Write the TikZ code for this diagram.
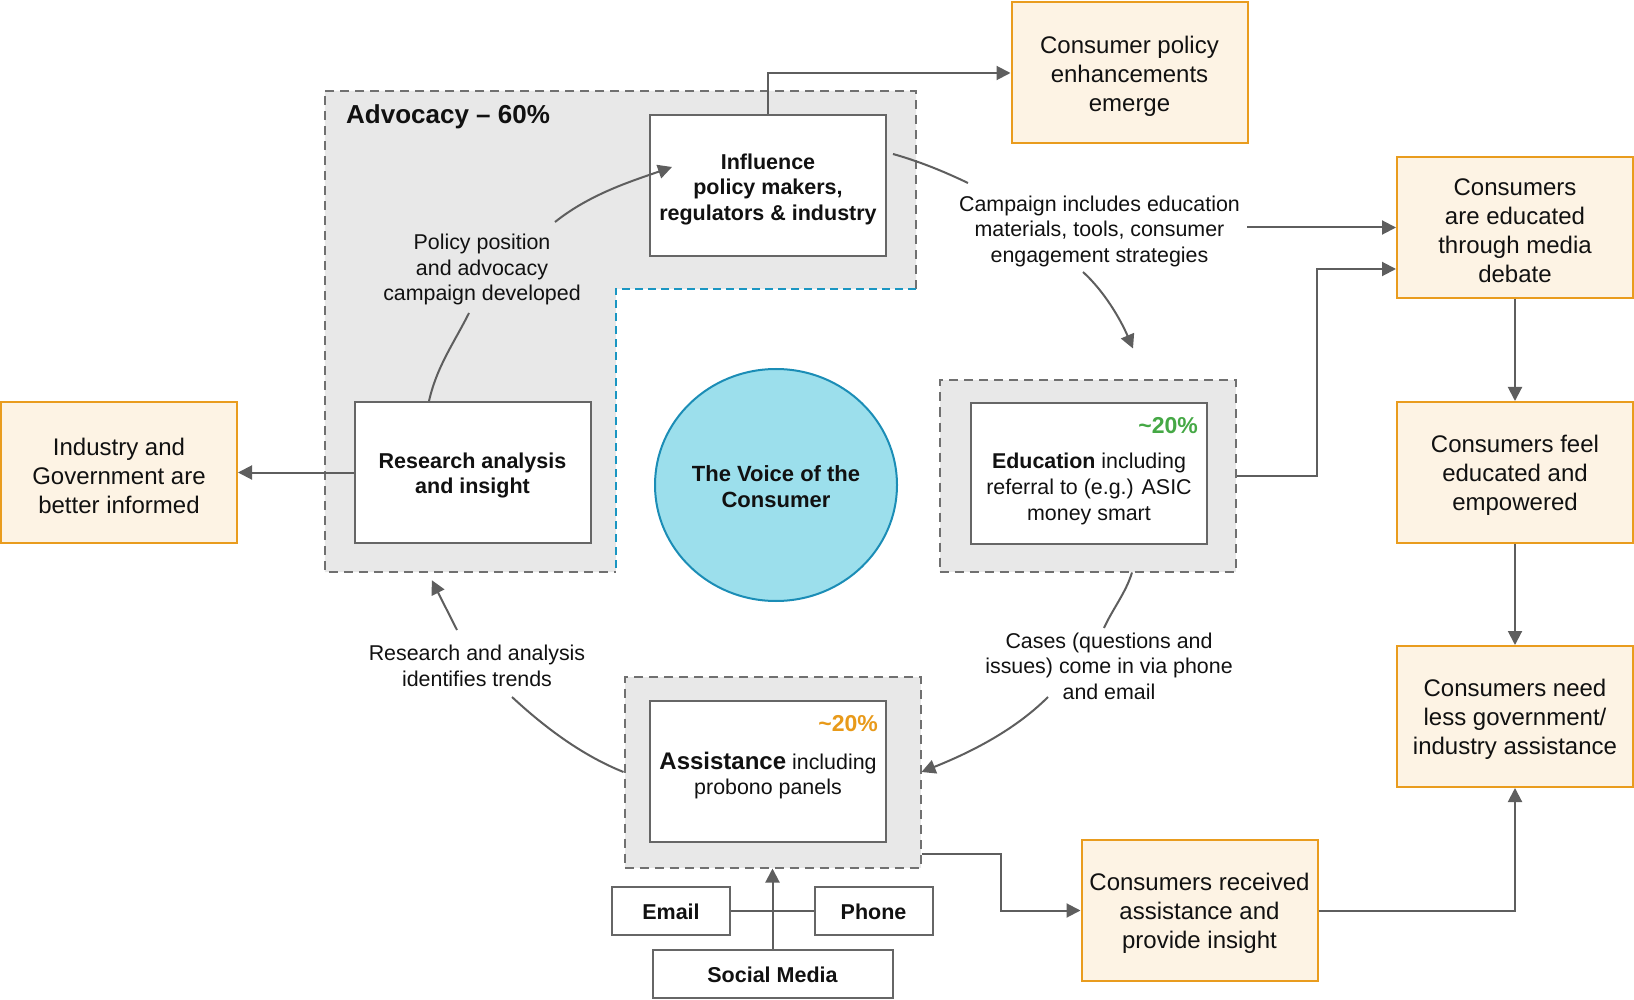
\documentclass[tikz,border=0pt]{standalone}
\usepackage{fontspec}
\setmainfont{Liberation Sans}
\usetikzlibrary{arrows.meta,calc,shapes.geometric}

\definecolor{outfill}{HTML}{FDF3E4}
\definecolor{outline}{HTML}{E99C1E}
\definecolor{panel}{HTML}{E8E8E8}
\definecolor{dashgray}{HTML}{707070}
\definecolor{boxline}{HTML}{666666}
\definecolor{wire}{HTML}{5E5E5E}
\definecolor{voicefill}{HTML}{9CDFEC}
\definecolor{voiceline}{HTML}{1B8DB6}
\definecolor{tealdash}{HTML}{1A96C2}
\definecolor{pctgreen}{HTML}{45A845}
\definecolor{pctorange}{HTML}{E89A1A}
\definecolor{ink}{HTML}{111111}

\begin{document}
\begin{tikzpicture}[x=1pt,y=-1pt,
  every node/.style={text=ink},
  outcome/.style={rectangle, draw=outline, fill=outfill, line width=2pt,
    minimum width=236pt, minimum height=141pt, inner sep=0pt},
  outtext/.style={align=center, inner sep=0pt, yshift=-3pt,
    font=\fontsize{24}{29}\selectfont},
  actbox/.style={rectangle, draw=boxline, fill=white, line width=2pt,
    minimum width=236pt, minimum height=141pt, inner sep=0pt},
  acttext/.style={align=center, inner sep=0pt, yshift=-3pt,
    font=\bfseries\fontsize{21.5}{25.5}\selectfont},
  chanbox/.style={rectangle, draw=boxline, fill=white, line width=2pt,
    minimum height=48pt, inner sep=0pt},
  chantext/.style={inner sep=0pt, yshift=-1.5pt, font=\bfseries\fontsize{21.5}{25.5}\selectfont},
  dashpanel/.style={rectangle, draw=dashgray, fill=panel, line width=2pt,
    dash pattern=on 9pt off 6pt, minimum width=296pt, minimum height=191pt, inner sep=0pt},
  lbl/.style={align=center, inner sep=0pt, font=\fontsize{21.4}{25.5}\selectfont},
  bodytxt/.style={align=center, inner sep=0pt, font=\fontsize{21.4}{25.8}\selectfont},
  pct/.style={inner sep=0pt, font=\bfseries\fontsize{23}{26}\selectfont, anchor=base east},
  conn/.style={draw=wire, line width=2pt},
  arr/.style={conn, -{Triangle[length=14pt,width=14pt]}}
]
\useasboundingbox (0,0) rectangle (1634,1000);

% Advocacy panel (L-shaped)
\node[rectangle, minimum width=591pt, minimum height=481pt, inner sep=0pt] (adv) at (620.5,331.5) {};
\coordinate (advin) at ($(adv.north west)+(291,198)$);
\fill[panel] (adv.north west) -- (adv.north east) -- (adv.north east |- advin) -- (advin)
  -- (advin |- adv.south) -- (adv.south west) -- cycle;
\draw[dashgray, line width=2pt, dash pattern=on 9pt off 6pt]
  (adv.north east |- advin) -- (adv.north east) -- (adv.north west) -- (adv.south west) -- (advin |- adv.south);
\draw[tealdash, line width=2pt, dash pattern=on 8pt off 5pt]
  (adv.north east |- advin) -- (advin) -- (advin |- adv.south);
\node[anchor=base west, inner sep=0pt, font=\bfseries\fontsize{26}{30}\selectfont] (advtitle) at (346,123.5) {Advocacy – 60\%};

% Education and assistance panels
\node[dashpanel] (edudash) at (1087.5,476) {};
\node[dashpanel] (assistdash) at (772.5,772) {};

% Activity boxes
\node[actbox] (influence) at (768,186) {};
\node[acttext] (influencetext) at (influence) {Influence\\policy makers,\\regulators \& industry};
\node[actbox] (research) at (472.5,472.5) {};
\node[acttext] (researchtext) at (research) {Research analysis\\and insight};
\node[actbox] (edubox) at (1089,473) {};
\node[actbox] (assistbox) at (768,771) {};
\node[pct, text=pctgreen] (edupct) at (1198,433) {\textasciitilde 20\%};
\node[bodytxt] (edutext) at (1089,489) {\textbf{Education} including\\referral to (e.g.) ASIC\\money smart};
\node[pct, text=pctorange] (assistpct) at (878,731) {\textasciitilde 20\%};
\node[bodytxt] (assisttext) at (768,775.6) {{\bfseries\fontsize{24}{25.8}\selectfont Assistance} including\\probono panels};

% Centre
\node[ellipse, draw=voiceline, fill=voicefill, line width=2pt, minimum width=242pt, minimum height=232pt,
  inner sep=0pt] (voice) at (776,485) {};
\node[align=center, inner sep=0pt, yshift=-2pt, font=\bfseries\fontsize{22}{26}\selectfont] (voicetext) at (voice) {The Voice of the\\Consumer};

% Channels
\node[chanbox, minimum width=118pt] (email) at (671,910.5) {};
\node[chantext] (emailtext) at (email) {Email};
\node[chanbox, minimum width=118pt] (phone) at (873.5,910.5) {};
\node[chantext] (phonetext) at (phone) {Phone};
\node[chanbox, minimum width=240pt] (social) at (772.5,973.5) {};
\node[chantext] (socialtext) at (social) {Social Media};

% Outcomes
\node[outcome] (policy) at (1129.5,73) {};
\node[outtext] (policytext) at (policy) {Consumer policy\\enhancements\\emerge};
\node[outcome] (educated) at (1515,227.5) {};
\node[outtext] (educatedtext) at (educated) {Consumers\\are educated\\through media\\debate};
\node[outcome] (feel) at (1515,472.5) {};
\node[outtext] (feeltext) at (feel) {Consumers feel\\educated and\\empowered};
\node[outcome] (need) at (1515,716.5) {};
\node[outtext] (needtext) at (need) {Consumers need\\less government/\\industry assistance};
\node[outcome] (received) at (1199.5,910.5) {};
\node[outtext] (receivedtext) at (received) {Consumers received\\assistance and\\provide insight};
\node[outcome] (industry) at (119,472.5) {};
\node[outtext] (industrytext) at (industry) {Industry and\\Government are\\better informed};

% Connector labels
\node[lbl] (lblpolicy) at (482,269.5) {Policy position\\and advocacy\\campaign developed};
\node[lbl] (lblcamp) at (1099.5,231) {Campaign includes education\\materials, tools, consumer\\engagement strategies};
\node[lbl] (lblcases) at (1109,666) {Cases (questions and\\issues) come in via phone\\and email};
\node[lbl] (lbltrend) at (477,666) {Research and analysis\\identifies trends};

% Straight connectors
\draw[arr] (influence.north) |- (policy.west);
\draw[arr] (research.west) -- (industry.east);
\draw[arr] ($(educated.west)+(-149,0)$) -- (educated.west);
\draw[arr] (edudash.east) -- ++(80,0) |- ($(educated.west)+(0,41.5)$);
\draw[arr] (educated.south) -- (feel.north);
\draw[arr] (feel.south) -- (need.north);
\draw[arr] (received.east) -| (need.south);
\draw[arr] ($(assistdash.south east)+(0,-15)$) -- ++(79,0) |- (received.west);
\draw[conn] (email.east) -- (phone.west);
\draw[arr] (social.north) -- (assistdash.south);

% Curved connectors around the cycle
\draw[conn] ($(research.north)+(-43.5,0)$) .. controls +(8,-35) and +(-15,30) .. ($(lblpolicy.center)+(-13,43.5)$);
\draw[arr] ($(lblpolicy.center)+(73,-47.5)$) .. controls +(35,-28) and +(-40,14) .. ($(influence.west)+(23,-19)$);
\draw[conn] ($(influence.east)+(6,-32)$) .. controls +(25,7) and +(-25,-12) .. ($(lblcamp.center)+(-131.5,-48)$);
\draw[arr] ($(lblcamp.center)+(-16.5,41)$) .. controls +(22,20) and +(-12,-28) .. ($(edudash.north)+(45.5,-31)$);
\draw[conn] ($(edudash.south)+(44.5,0)$) .. controls +(-6,20) and +(8,-18) .. ($(lblcases.center)+(-5,-38)$);
\draw[arr] ($(lblcases.center)+(-61,31)$) .. controls +(-35,35) and +(45,-18) .. (assistdash.east);
\draw[conn] (assistdash.west) .. controls +(-45,-18) and +(28,26) .. ($(lbltrend.center)+(35,31)$);
\draw[arr] ($(lbltrend.center)+(-20,-36)$) -- ($(adv.south west)+(107,8)$);
\end{tikzpicture}
\end{document}
